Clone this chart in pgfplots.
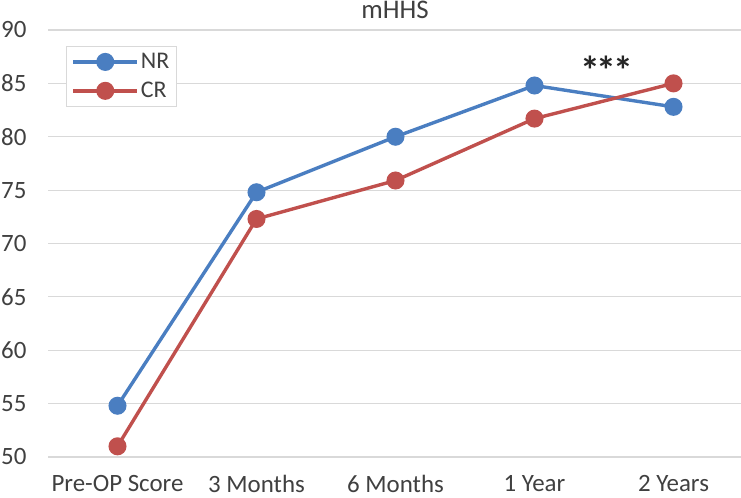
\documentclass[border=0pt]{standalone}
\usepackage{pgfplots}
\pgfplotsset{compat=1.18}
\usepackage{fontspec}
\setmainfont{Carlito}
\definecolor{nrblue}{RGB}{74,126,193}
\definecolor{crred}{RGB}{192,80,77}
\definecolor{gridgray}{RGB}{217,217,217}
\definecolor{txt}{RGB}{64,64,64}
\begin{document}
\begin{tikzpicture}
\useasboundingbox (0,0) rectangle (741bp,498bp);
\begin{axis}[
  at={(48bp,41bp)}, anchor=south west,
  scale only axis, width=695bp, height=427bp,
  xmin=-0.5, xmax=4.5, ymin=50, ymax=90,
  ytick={50,55,...,90},
  xtick={0,...,4},
  xticklabels={Pre-OP Score,3 Months,6 Months,1 Year,2 Years},
  axis line style={draw=none},
  major tick length=0pt,
  ymajorgrids, grid style={gridgray, line width=1.2bp},
  ticklabel style={font=\fontsize{25}{30}\selectfont, text=txt},
  /pgf/number format/assume math mode=true,
  yticklabel style={xshift=-18bp},
  xticklabel style={yshift=-15bp},
  clip=false,
  legend style={at={(0.026,0.9625)}, anchor=north west, draw=gridgray, line width=1bp,
    font=\fontsize{24}{28}\selectfont, text=txt, inner xsep=5bp, inner ysep=5bp,
    row sep=8bp},
  legend cell align=left,
  legend image code/.code={\draw[mark repeat=2,mark phase=2] plot coordinates {(0bp,0bp) (32bp,0bp) (64bp,0bp)};},
]
\addplot[nrblue, line width=3.4bp, mark=*, mark size=7.3bp, mark options={solid}] coordinates {
  (0,54.8) (1,74.8) (2,80.0) (3,84.8) (4,82.8)};
\addlegendentry{NR}
\addplot[crred, line width=3.4bp, mark=*, mark size=7.3bp, mark options={solid}] coordinates {
  (0,51.0) (1,72.3) (2,75.9) (3,81.7) (4,85.0)};
\addlegendentry{CR}
\node[font=\fontsize{40}{46}\selectfont\bfseries, text=black!85, anchor=base] at (axis cs:3.52,84.9) {*\kern-3bp*\kern-3bp*};
\end{axis}
\node[anchor=base, font=\fontsize{27}{32}\selectfont, text=txt] at (395bp,479bp) {mHHS};
\end{tikzpicture}
\end{document}
